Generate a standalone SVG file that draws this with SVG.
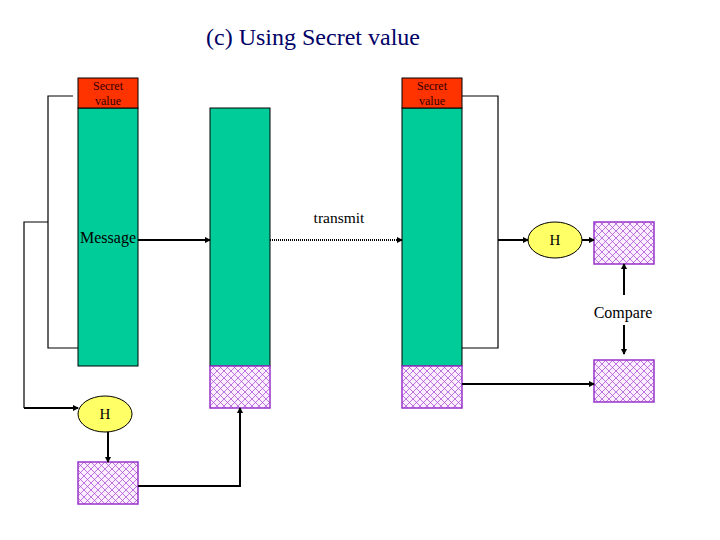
<svg xmlns="http://www.w3.org/2000/svg" width="720" height="540" viewBox="0 0 720 540">
<style>
.col{fill:#00CC99;stroke:#000;stroke-width:1}
.sec{fill:#FF3300;stroke:#000;stroke-width:1}
.hat{fill:url(#hatch);stroke:#9933CC;stroke-width:1.5}
.ell{fill:#FFFF66;stroke:#000;stroke-width:1}
.ln{fill:none;stroke:#000;stroke-width:1.2}
.ar{fill:none;stroke:#000;stroke-width:2;marker-end:url(#ah)}
</style>
<defs>
<pattern id="hatch" patternUnits="userSpaceOnUse" width="7" height="7">
<rect width="7" height="7" fill="#FDEEFF"/>
<path d="M0,0L7,7M7,0L0,7" stroke="#A040D0" stroke-width="0.7"/>
</pattern>
<marker id="ah" markerWidth="6" markerHeight="6" refX="5" refY="3" orient="auto" markerUnits="userSpaceOnUse">
<path d="M0,0L6,3L0,6z" fill="#000"/>
</marker>
</defs>
<rect width="720" height="540" fill="#fff"/>
<g font-family="Liberation Serif, DejaVu Serif, serif" fill="#000">
<text x="313" y="45" font-size="24" text-anchor="middle" fill="#000066">(c) Using Secret value</text>

<g id="left-column">
<rect class="col" x="78" y="108" width="60" height="258"/>
<rect class="sec" x="78" y="78" width="60" height="30"/>
<text x="108" y="90" font-size="12" text-anchor="middle" fill="#330000">Secret</text>
<text x="108" y="105" font-size="12" text-anchor="middle" fill="#330000">value</text>
<text x="108" y="243" font-size="16" text-anchor="middle">Message</text>
</g>
<g id="middle-column">
<rect class="col" x="210" y="108" width="60" height="258"/>
<rect class="hat" x="210" y="366" width="60" height="42"/>
</g>
<g id="right-column">
<rect class="col" x="402" y="108" width="60" height="258"/>
<rect class="sec" x="402" y="78" width="60" height="30"/>
<text x="432" y="90" font-size="12" text-anchor="middle" fill="#330000">Secret</text>
<text x="432" y="105" font-size="12" text-anchor="middle" fill="#330000">value</text>
<rect class="hat" x="402" y="366" width="60" height="42"/>
</g>
<g id="left-h">
<ellipse class="ell" cx="105" cy="414" rx="27" ry="18"/>
<text x="105" y="419" font-size="15" text-anchor="middle">H</text>
</g>
<g id="left-mac">
<rect class="hat" x="78" y="462" width="60" height="42"/>
</g>
<g id="right-h">
<ellipse class="ell" cx="555" cy="240" rx="27" ry="18"/>
<text x="555" y="245" font-size="15" text-anchor="middle">H</text>
</g>
<g id="mac-computed">
<rect class="hat" x="594" y="222" width="60" height="42"/>
</g>
<g id="mac-received">
<rect class="hat" x="594" y="360" width="60" height="42"/>
</g>
<g id="connectors">
<polyline class="ln" points="73,96 48,96 48,348 78,348"/>
<polyline class="ln" points="48,222 24,222 24,408"/>
<path class="ar" d="M24,408H78"/>
<path class="ar" d="M108,432V462"/>
<polyline class="ln" points="138,486 240,486 240,420" style="stroke-width:2"/>
<path class="ar" d="M240,420V408"/>
<path class="ar" d="M138,240H210"/>
<path d="M270,240H397" fill="none" stroke="#000" stroke-width="2" stroke-dasharray="1,1"/>
<path class="ar" d="M396,240H402"/>
<text x="339" y="223" font-size="15.5" text-anchor="middle">transmit</text>
<polyline class="ln" points="462,96 498,96 498,348 462,348"/>
<path class="ar" d="M498,240H528"/>
<path class="ar" d="M582,240H594"/>
<path class="ar" d="M624,295V264"/>
<text x="623" y="318" font-size="16" text-anchor="middle">Compare</text>
<path class="ar" d="M624,325V354"/>
<path class="ar" d="M462,384H594"/>
</g>
</g>
</svg>
